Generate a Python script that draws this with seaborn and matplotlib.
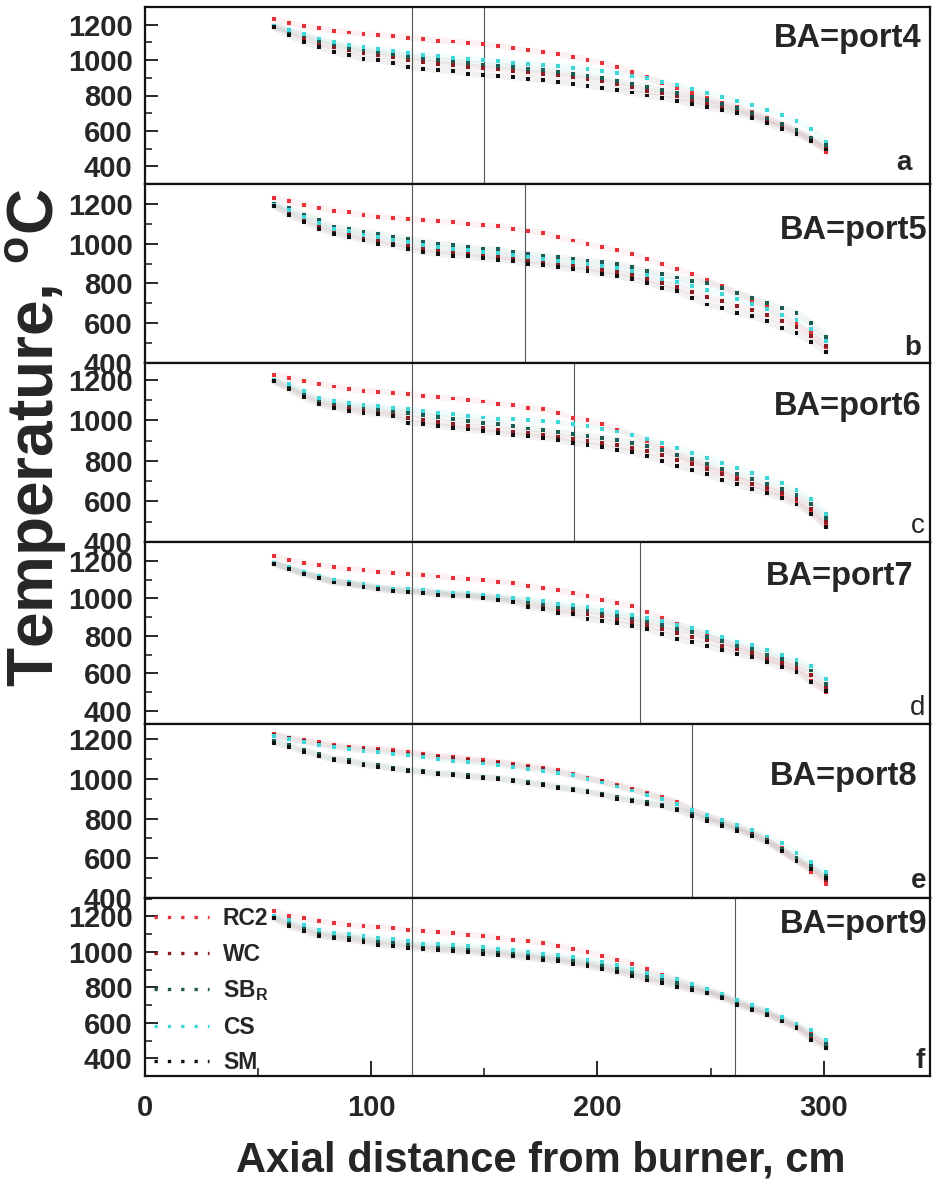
import matplotlib
matplotlib.use("Agg")
import matplotlib.pyplot as plt
from matplotlib.lines import Line2D
from matplotlib.ticker import FixedLocator, MultipleLocator
import pandas as pd
import seaborn as sns

# ---------------------------------------------------------------- data
distance_cm = [57.0, 63.6, 70.2, 76.8, 83.4, 90.0, 96.6, 103.2, 109.8, 116.4,
               123.0, 129.6, 136.2, 142.8, 149.4, 156.0, 162.6, 169.2, 175.8, 182.4,
               189.0, 195.6, 202.2, 208.8, 215.4, 222.0, 228.6, 235.2, 241.8, 248.4,
               255.0, 261.6, 268.2, 274.8, 281.4, 288.0, 294.6, 301.2]

series_names = ["RC2", "WC", "SB_R", "CS", "SM"]
legend_labels = ["RC2", "WC", r"SB$_{\mathbf{R}}$", "CS", "SM"]
port_labels = ["BA=port4", "BA=port5", "BA=port6", "BA=port7", "BA=port8", "BA=port9"]
panel_letters = ["a", "b", "c", "d", "e", "f"]
port_positions_cm = [150, 168, 189.5, 219, 242, 261]
reference_line_cm = 118
x_ticks = [0, 100, 200, 300]
y_ticks = [400, 600, 800, 1000, 1200]

# BA = port4
p4_rc2 = [1230, 1211, 1192, 1179, 1165, 1156, 1148, 1143, 1135, 1126, 1118, 1110, 1105, 1099, 1092, 1080, 1068, 1056, 1045, 1035,
          1020, 1002, 982, 960, 933, 902, 870, 840, 812, 785, 760, 735, 705, 672, 638, 600, 555, 478]
p4_wc = [1190, 1160, 1125, 1098, 1073, 1056, 1040, 1028, 1018, 1000, 990, 980, 972, 962, 955, 950, 940, 930, 922, 913,
         902, 892, 880, 862, 845, 828, 812, 795, 775, 758, 738, 715, 690, 660, 628, 592, 548, 500]
p4_sbr = [1192, 1165, 1140, 1110, 1090, 1070, 1055, 1045, 1035, 1020, 1010, 1000, 992, 983, 975, 968, 960, 950, 943, 934,
          922, 910, 898, 880, 865, 848, 830, 812, 792, 772, 750, 728, 700, 670, 640, 605, 560, 520]
p4_cs = [1195, 1170, 1148, 1122, 1100, 1085, 1072, 1062, 1052, 1040, 1030, 1022, 1014, 1007, 1000, 993, 986, 980, 972, 965,
         957, 948, 938, 926, 912, 897, 878, 858, 838, 815, 792, 770, 745, 718, 690, 655, 610, 540]
p4_sm = [1185, 1142, 1100, 1075, 1045, 1027, 1008, 999, 984, 961, 952, 943, 938, 924, 915, 909, 905, 895, 886, 877,
         867, 855, 844, 830, 817, 800, 785, 770, 752, 735, 718, 700, 675, 645, 612, 582, 542, 495]

# BA = port5
p5_rc2 = [1229, 1215, 1195, 1181, 1166, 1157, 1144, 1135, 1130, 1124, 1118, 1113, 1110, 1101, 1093, 1090, 1076, 1065, 1055, 1033,
          1016, 999, 983, 966, 949, 923, 898, 872, 847, 815, 785, 752, 718, 680, 640, 595, 550, 478]
p5_wc = [1192, 1156, 1122, 1090, 1061, 1047, 1030, 1017, 1005, 991, 975, 966, 957, 952, 942, 937, 929, 915, 909, 898,
         889, 881, 866, 858, 841, 824, 801, 784, 756, 730, 711, 685, 666, 640, 609, 582, 538, 485]
p5_sbr = [1200, 1178, 1144, 1118, 1084, 1076, 1059, 1050, 1033, 1025, 1008, 1000, 991, 983, 974, 971, 957, 949, 940, 932,
          923, 915, 906, 898, 881, 864, 847, 830, 813, 804, 779, 753, 728, 702, 677, 651, 600, 532]
p5_cs = [1196, 1168, 1133, 1104, 1073, 1062, 1045, 1033, 1019, 1008, 992, 983, 974, 968, 958, 954, 943, 932, 924, 915,
         906, 898, 886, 878, 861, 844, 824, 807, 785, 767, 746, 720, 697, 671, 643, 615, 570, 510]
p5_sm = [1188, 1144, 1110, 1076, 1050, 1033, 1016, 1000, 991, 974, 957, 949, 940, 937, 926, 920, 915, 898, 893, 881,
         872, 864, 847, 838, 821, 804, 779, 762, 728, 694, 677, 651, 635, 609, 575, 549, 507, 456]

# BA = port6
p6_rc2 = [1222, 1210, 1193, 1180, 1167, 1155, 1147, 1142, 1137, 1130, 1122, 1113, 1108, 1102, 1093, 1083, 1075, 1063, 1055, 1038,
          1013, 1000, 980, 955, 930, 897, 865, 830, 800, 770, 742, 715, 688, 660, 630, 595, 548, 478]
p6_wc = [1194, 1162, 1124, 1090, 1072, 1060, 1050, 1040, 1032, 1010, 1000, 990, 980, 970, 962, 955, 945, 938, 930, 920,
         910, 900, 890, 878, 864, 850, 830, 805, 785, 760, 735, 710, 685, 665, 640, 610, 565, 500]
p6_sbr = [1196, 1170, 1135, 1102, 1085, 1074, 1065, 1056, 1048, 1035, 1025, 1015, 1005, 995, 988, 980, 970, 960, 952, 944,
          935, 925, 915, 903, 890, 875, 855, 830, 810, 785, 760, 735, 710, 688, 662, 630, 588, 520]
p6_cs = [1198, 1178, 1145, 1112, 1095, 1086, 1078, 1070, 1062, 1054, 1046, 1038, 1030, 1022, 1014, 1008, 1005, 1000, 996, 990,
         980, 970, 958, 945, 928, 908, 888, 862, 840, 815, 790, 765, 742, 715, 690, 655, 610, 540]
p6_sm = [1192, 1155, 1113, 1080, 1063, 1047, 1038, 1030, 1022, 988, 980, 972, 963, 955, 947, 938, 930, 922, 915, 905,
         888, 880, 868, 855, 842, 825, 800, 775, 755, 735, 705, 685, 660, 640, 615, 585, 540, 475]

# BA = port7
p7_rc2 = [1224, 1203, 1189, 1177, 1165, 1156, 1151, 1142, 1137, 1130, 1124, 1116, 1110, 1103, 1098, 1089, 1080, 1066, 1054, 1045,
          1028, 1010, 993, 975, 958, 926, 896, 862, 830, 800, 770, 742, 712, 685, 655, 620, 560, 500]
p7_wc = [1186, 1158, 1132, 1110, 1088, 1078, 1066, 1053, 1043, 1038, 1035, 1026, 1020, 1015, 1007, 998, 990, 968, 955, 940,
         930, 915, 905, 890, 875, 858, 838, 815, 795, 775, 748, 728, 706, 680, 655, 628, 590, 520]
p7_sbr = [1188, 1162, 1136, 1114, 1091, 1082, 1070, 1058, 1048, 1042, 1038, 1030, 1024, 1020, 1012, 1003, 995, 982, 970, 956,
          946, 935, 922, 908, 894, 878, 860, 838, 820, 795, 770, 745, 728, 700, 675, 648, 615, 545]
p7_cs = [1190, 1165, 1140, 1118, 1095, 1086, 1075, 1062, 1052, 1048, 1044, 1036, 1030, 1026, 1018, 1010, 1004, 995, 985, 972,
         962, 952, 940, 928, 912, 895, 878, 860, 843, 818, 792, 768, 750, 722, 697, 670, 640, 568]
p7_sm = [1184, 1155, 1128, 1106, 1084, 1074, 1062, 1048, 1038, 1034, 1030, 1020, 1014, 1010, 1000, 990, 982, 952, 942, 922,
         915, 890, 880, 866, 852, 835, 810, 785, 765, 748, 722, 704, 686, 660, 633, 607, 555, 508]

# BA = port8
p8_rc2 = [1226, 1209, 1195, 1184, 1172, 1163, 1158, 1153, 1145, 1138, 1128, 1116, 1112, 1102, 1094, 1087, 1077, 1065, 1057, 1043,
          1023, 1006, 989, 972, 952, 930, 908, 884, 845, 815, 788, 760, 730, 695, 650, 595, 532, 470]
p8_wc = [1222, 1205, 1190, 1178, 1166, 1156, 1150, 1144, 1136, 1128, 1120, 1110, 1105, 1095, 1087, 1080, 1070, 1058, 1050, 1035,
         1018, 1002, 984, 966, 946, 924, 900, 876, 840, 810, 782, 755, 725, 690, 640, 590, 550, 490]
p8_sbr = [1190, 1170, 1146, 1125, 1103, 1094, 1078, 1069, 1057, 1047, 1040, 1030, 1027, 1018, 1012, 1006, 996, 984, 976, 962,
          950, 938, 925, 908, 895, 882, 870, 850, 825, 798, 775, 748, 720, 688, 645, 600, 560, 510]
p8_cs = [1218, 1200, 1185, 1172, 1160, 1150, 1143, 1136, 1128, 1120, 1112, 1100, 1092, 1085, 1078, 1070, 1060, 1050, 1042, 1030,
         1020, 1000, 982, 962, 942, 920, 898, 874, 842, 818, 792, 768, 742, 710, 676, 625, 583, 532]
p8_sm = [1183, 1163, 1138, 1118, 1097, 1087, 1070, 1062, 1050, 1040, 1033, 1023, 1020, 1011, 1006, 1000, 989, 977, 969, 955,
         944, 932, 918, 900, 888, 876, 864, 842, 815, 790, 765, 740, 712, 680, 635, 585, 545, 500]

# BA = port9
p9_rc2 = [1228, 1204, 1190, 1172, 1162, 1153, 1144, 1138, 1132, 1125, 1119, 1110, 1106, 1096, 1091, 1078, 1068, 1059, 1049, 1034,
          1016, 997, 978, 955, 933, 902, 868, 840, 812, 785, 755, 722, 690, 660, 622, 585, 535, 470]
p9_wc = [1192, 1155, 1126, 1098, 1087, 1078, 1065, 1052, 1042, 1034, 1025, 1018, 1011, 1006, 999, 992, 983, 974, 964, 955,
         944, 927, 913, 894, 876, 848, 834, 814, 790, 772, 745, 710, 680, 652, 614, 576, 518, 470]
p9_sbr = [1196, 1165, 1138, 1108, 1095, 1088, 1075, 1063, 1055, 1046, 1033, 1028, 1022, 1016, 1010, 1003, 994, 985, 975, 965,
          954, 937, 925, 906, 888, 860, 848, 826, 800, 780, 752, 717, 688, 660, 622, 583, 530, 480]
p9_cs = [1200, 1180, 1150, 1122, 1108, 1100, 1090, 1080, 1070, 1062, 1045, 1042, 1036, 1030, 1026, 1018, 1008, 1000, 990, 980,
         970, 952, 942, 924, 905, 878, 866, 844, 818, 792, 765, 730, 700, 672, 634, 596, 558, 505]
p9_sm = [1188, 1143, 1115, 1087, 1078, 1068, 1053, 1040, 1030, 1021, 1016, 1008, 1002, 997, 989, 983, 974, 965, 955, 946,
         933, 918, 902, 884, 865, 838, 823, 804, 782, 767, 739, 701, 673, 645, 607, 569, 503, 456]

panels = [
    {"RC2": p4_rc2, "WC": p4_wc, "SB_R": p4_sbr, "CS": p4_cs, "SM": p4_sm},
    {"RC2": p5_rc2, "WC": p5_wc, "SB_R": p5_sbr, "CS": p5_cs, "SM": p5_sm},
    {"RC2": p6_rc2, "WC": p6_wc, "SB_R": p6_sbr, "CS": p6_cs, "SM": p6_sm},
    {"RC2": p7_rc2, "WC": p7_wc, "SB_R": p7_sbr, "CS": p7_cs, "SM": p7_sm},
    {"RC2": p8_rc2, "WC": p8_wc, "SB_R": p8_sbr, "CS": p8_cs, "SM": p8_sm},
    {"RC2": p9_rc2, "WC": p9_wc, "SB_R": p9_sbr, "CS": p9_cs, "SM": p9_sm},
]

# ---------------------------------------------------------------- style
sns.set_theme(style="ticks")
plt.rcParams["font.family"] = ["Liberation Sans", "DejaVu Sans"]
plt.rcParams["font.weight"] = "bold"
plt.rcParams["mathtext.fontset"] = "custom"
plt.rcParams["mathtext.rm"] = "Liberation Sans:bold"
plt.rcParams["mathtext.bf"] = "Liberation Sans:bold"
plt.rcParams["mathtext.it"] = "Liberation Sans:bold:italic"

palette = {"RC2": "#e5323a", "WC": "#8a1c22", "SB_R": "#1d5a52", "CS": "#3ed6d6", "SM": "#111111"}
markers = {"RC2": "s", "WC": "s", "SB_R": "s", "CS": "s", "SM": "s"}

W, H = 932, 1195
fig = plt.figure(figsize=(W / 100, H / 100), dpi=100)
fig.patch.set_facecolor("white")

left_px, right_px = 145, 930
edges_px = [7, 184, 363, 542, 724, 898, 1076]
ylims = [(300, 1300), (400, 1300), (400, 1283), (330, 1300), (400, 1277), (300, 1303)]
port_text_y = [0.82, 0.74, 0.755, 0.81, 0.70, 0.85]
port_text_right_px = [922, 927, 921, 913, 918, 927]
letter_right_px = [912, 921, 925, 925, 926, 925]
letter_base_px = [170, 355, 533, 715, 888, 1068]
letter_weight = ["bold", "bold", "normal", "normal", "bold", "bold"]

axes = []
for i, data in enumerate(panels):
    top, bot = edges_px[i], edges_px[i + 1]
    ax = fig.add_axes([left_px / W, 1 - bot / H, (right_px - left_px) / W, (bot - top) / H])
    axes.append(ax)

    long = pd.DataFrame(
        [(d, t, name) for name in series_names for d, t in zip(distance_cm, data[name])],
        columns=["distance", "temperature", "series"],
    )
    # faint trace along each series
    for name in series_names:
        ax.plot(distance_cm, data[name], color=palette[name], lw=4.5, alpha=0.06,
                solid_capstyle="round", zorder=1)
    sns.scatterplot(data=long, x="distance", y="temperature", hue="series", style="series",
                    hue_order=series_names, style_order=series_names, palette=palette,
                    markers=markers, s=8, linewidth=0, legend=False, ax=ax, zorder=3)

    ax.axvline(reference_line_cm, color="#555555", lw=0.8, zorder=0.5)
    ax.axvline(port_positions_cm[i], color="#555555", lw=0.8, zorder=0.5)

    ax.set_xlim(0, 347)
    ax.set_ylim(*ylims[i])
    ax.set_xlabel("")
    ax.set_ylabel("")

    ax.yaxis.set_major_locator(FixedLocator(y_ticks))
    ax.yaxis.set_minor_locator(MultipleLocator(100))
    ax.tick_params(axis="y", which="major", direction="in", length=9, width=1.4,
                   labelsize=21, pad=9, left=True, right=False)
    ax.tick_params(axis="y", which="minor", direction="in", length=5, width=1.2,
                   left=True, right=False)
    for lab in ax.get_yticklabels():
        lab.set_fontweight("bold")

    if i < 5:
        ax.tick_params(axis="x", which="both", bottom=False, top=False, labelbottom=False)
    else:
        ax.xaxis.set_major_locator(FixedLocator(x_ticks))
        ax.xaxis.set_minor_locator(MultipleLocator(50))
        ax.tick_params(axis="x", which="major", direction="in", length=11, width=1.4,
                       labelsize=21, pad=13, top=False)
        ax.tick_params(axis="x", which="minor", direction="in", length=6, width=1.2, top=False)
        for lab in ax.get_xticklabels():
            lab.set_fontweight("bold")

    for sp in ax.spines.values():
        sp.set_visible(True)
        sp.set_linewidth(1.6)
        sp.set_color("#111111")

    h = bot - top
    ax.text((port_text_right_px[i] - left_px) / (right_px - left_px), port_text_y[i], port_labels[i],
            transform=ax.transAxes, ha="right", va="center", fontsize=23.5, fontweight="bold")
    ax.text((letter_right_px[i] - left_px) / (right_px - left_px), (bot - letter_base_px[i]) / h,
            panel_letters[i], transform=ax.transAxes, ha="right", va="baseline",
            fontsize=20, fontweight=letter_weight[i])

# legend in the bottom panel
handles = [Line2D([0], [0], color=palette[n], lw=2.4, linestyle=(0, (1.0, 3.0))) for n in series_names]
leg = axes[-1].legend(handles, legend_labels, loc="upper left", bbox_to_anchor=(0.0, 1.0),
                      frameon=False, fontsize=16.5, handlelength=2.4, handletextpad=0.6,
                      labelspacing=0.55, borderaxespad=0.0, borderpad=0.4)
for t in leg.get_texts():
    t.set_fontweight("bold")

fig.text(36 / W, 1 - 438 / H, r"Temperature, $^{\mathbf{o}}$C", rotation=90, ha="center", va="center",
         fontsize=46, fontweight="bold")
fig.text(541 / W, 1 - 1160 / H, "Axial distance from burner, cm", ha="center", va="center",
         fontsize=30, fontweight="bold")

fig.savefig("out.png", dpi=100, facecolor="white")
